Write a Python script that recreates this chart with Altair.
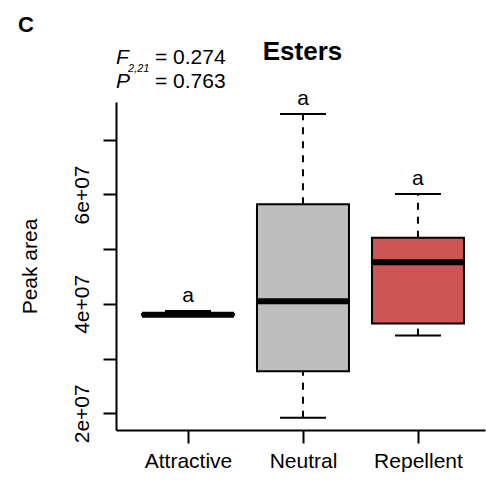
import altair as alt
import pandas as pd

# ---- data ----
categories = ["Attractive", "Neutral", "Repellent"]
positions = [1, 2, 3]
mins = [3.78e7, 1.92e7, 3.42e7]
q1s = [3.795e7, 2.77e7, 3.64e7]
medians = [3.80e7, 4.05e7, 4.76e7]
q3s = [3.815e7, 5.82e7, 5.21e7]
maxs = [3.87e7, 7.47e7, 6.01e7]
fills = ["#6CA6CD", "#BEBEBE", "#CD5555"]
letters = ["a", "a", "a"]
y_ticks = [2e7, 3e7, 4e7, 5e7, 6e7, 7e7]

df = pd.DataFrame({
    "cat": categories, "pos": positions, "min": mins, "q1": q1s,
    "med": medians, "q3": q3s, "max": maxs, "fill": fills, "letter": letters,
})

FONT = "Liberation Sans"
FS = 21
W, H = 369, 328
x_scale = alt.Scale(domain=[0.374, 3.583], nice=False, zero=False)
y_scale = alt.Scale(domain=[1.695e7, 7.69e7], nice=False, zero=False)

label_expr_x = "[" + ",".join(f"'{c}'" for c in categories) + "][datum.value - 1]"
x_axis = alt.Axis(values=positions, labelExpr=label_expr_x, title=None,
                  labelFontSize=FS, labelBaseline="alphabetic", labelPadding=24,
                  labelAlign="center", labelAngle=0)
y_axis = alt.Axis(values=y_ticks,
                  labelExpr="datum.value % 2e7 == 0 ? format(datum.value / 1e7, 'd') + 'e+07' : ''",
                  title="Peak area", titleFontSize=FS, titleFontWeight="normal", titleFont=FONT,
                  titleAngle=270, titleX=-79.5, titleY=H / 2, titleAlign="center",
                  titleBaseline="alphabetic", titleColor="black",
                  labelFontSize=FS, labelAngle=270, labelAlign="center",
                  labelBaseline="alphabetic", labelPadding=15)

base = alt.Chart(df).transform_calculate(
    x_lo="datum.pos - 0.4", x_hi="datum.pos + 0.4",
    c_lo="datum.pos - 0.2", c_hi="datum.pos + 0.2",
)

whisk_hi = base.mark_rule(color="black", strokeWidth=2, strokeDash=[7, 7]).encode(
    x=alt.X("pos:Q", scale=x_scale, axis=x_axis),
    y=alt.Y("q3:Q", scale=y_scale, axis=y_axis), y2="max:Q")
whisk_lo = base.mark_rule(color="black", strokeWidth=2, strokeDash=[7, 7]).encode(
    x=alt.X("pos:Q", scale=x_scale, axis=x_axis),
    y=alt.Y("min:Q", scale=y_scale, axis=y_axis), y2="q1:Q")
cap_hi = base.mark_rule(color="black", strokeWidth=2).encode(
    x=alt.X("c_lo:Q", scale=x_scale, axis=x_axis), x2="c_hi:Q",
    y=alt.Y("max:Q", scale=y_scale, axis=y_axis))
cap_lo = base.mark_rule(color="black", strokeWidth=2).encode(
    x=alt.X("c_lo:Q", scale=x_scale, axis=x_axis), x2="c_hi:Q",
    y=alt.Y("min:Q", scale=y_scale, axis=y_axis))
boxes = base.mark_rect(stroke="black", strokeWidth=2).encode(
    x=alt.X("x_lo:Q", scale=x_scale, axis=x_axis), x2="x_hi:Q",
    y=alt.Y("q1:Q", scale=y_scale, axis=y_axis), y2="q3:Q",
    fill=alt.Fill("fill:N", scale=None))
med = base.mark_rule(color="black", strokeWidth=6).encode(
    x=alt.X("x_lo:Q", scale=x_scale, axis=x_axis), x2="x_hi:Q",
    y=alt.Y("med:Q", scale=y_scale, axis=y_axis))
letters_t = base.mark_text(font=FONT, fontSize=FS, baseline="alphabetic", dy=-9, color="black").encode(
    x=alt.X("pos:Q", scale=x_scale, axis=x_axis),
    y=alt.Y("max:Q", scale=y_scale, axis=y_axis),
    text="letter:N")

# annotations (panel letter, title and statistics)
ann = pd.DataFrame({"k": [0]})
def txt(text, x, y, size=FS, weight="normal", style="normal", align="left"):
    return alt.Chart(ann).mark_text(text=text, font=FONT, fontSize=size, fontWeight=weight,
                                    fontStyle=style, align=align, baseline="alphabetic",
                                    color="black").encode(x=alt.value(x), y=alt.value(y))

panel = txt("C", -98, -70, size=22, weight="bold")
title_t = txt("Esters", 186.5, -42, size=26, weight="bold", align="center")
f_lab = txt("F", 0, -37.7, style="italic")
f_sub = txt("2,21", 12, -30, size=11, style="italic")
f_val = txt("= 0.274", 39, -37.7)
p_lab = txt("P", 0, -14.5, style="italic")
p_val = txt("= 0.763", 39, -14.5)

chart = alt.layer(
    boxes, whisk_hi, whisk_lo, cap_hi, cap_lo, med, letters_t,
    panel, title_t, f_lab, f_sub, f_val, p_lab, p_val,
).properties(
    width=W, height=H,
    background="white",
    autosize=alt.AutoSizeParams(type="none"),
    padding={"left": 116, "top": 102, "right": 1, "bottom": 52},
).configure_view(stroke=None).configure_axis(
    grid=False, domainColor="black", domainWidth=2, tickColor="black", tickWidth=2,
    tickSize=13, labelColor="black", labelFont=FONT,
)

chart.save("out.html", embed_options={"renderer": "svg", "actions": False})
